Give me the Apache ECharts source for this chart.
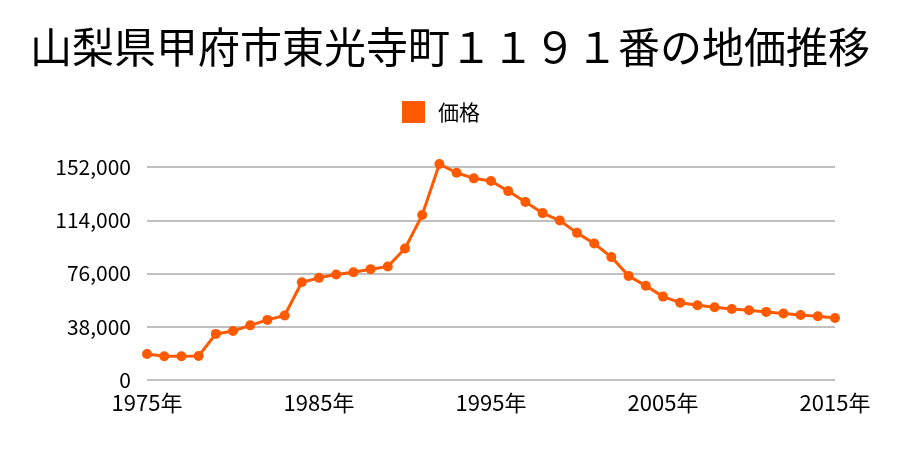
<!DOCTYPE html>
<html><head><meta charset="utf-8">
<script src="https://cdn.jsdelivr.net/npm/echarts@6/dist/echarts.min.js"></script>
<style>html,body{margin:0;padding:0;background:#fff}#c{width:900px;height:450px}</style>
</head><body><div id="c"></div>
<script>
const titleText = '山梨県甲府市東光寺町１１９１番の地価推移';
const seriesName = '価格';
const years = [];
for (let y = 1975; y <= 2015; y++) years.push(String(y));
const prices = [18600,16900,16900,17100,32900,35000,39000,42900,46000,69800,
  72900,75300,76900,79100,81000,93800,117700,154100,147900,143900,
  142000,134800,127000,119100,113800,105000,97400,87700,74300,67200,
  59500,55200,53400,51900,50700,49800,48600,47400,46400,45500,44300];
const yTicks = [0,38000,76000,114000,152000];
const font = '"Noto Sans CJK JP", sans-serif';
const chart = echarts.init(document.getElementById('c'));
chart.setOption({
  animation:false,
  title:{text:titleText,left:'center',top:21,textStyle:{fontFamily:font,fontSize:42,fontWeight:'normal',color:'#000'}},
  legend:{data:[seriesName],top:96,left:397,itemWidth:23,itemHeight:22,icon:'rect',itemGap:10,
    textStyle:{fontFamily:font,fontSize:21,color:'#000',padding:[0,0,0,8]}},
  grid:{left:147,right:65,top:167,bottom:70,containLabel:false},
  xAxis:{type:'category',data:years,boundaryGap:false,
    axisLine:{show:false},axisTick:{show:false},
    axisLabel:{interval:9,formatter:v=>v+'年',fontFamily:font,fontSize:22,color:'#000',margin:12}},
  yAxis:{type:'value',min:yTicks[0],max:yTicks[yTicks.length-1],interval:38000,
    axisLine:{show:false},axisTick:{show:false},
    splitLine:{lineStyle:{color:'#aaaaaa',width:1.5}},
    axisLabel:{fontFamily:font,fontSize:21,color:'#000',margin:16,
      formatter:v=>v.toLocaleString('en-US')}},
  series:[{name:seriesName,type:'line',data:prices,symbol:'circle',symbolSize:10,clip:false,
    itemStyle:{color:'#ff5a00'},lineStyle:{color:'#ff5a00',width:3}}]
});
</script></body></html>
